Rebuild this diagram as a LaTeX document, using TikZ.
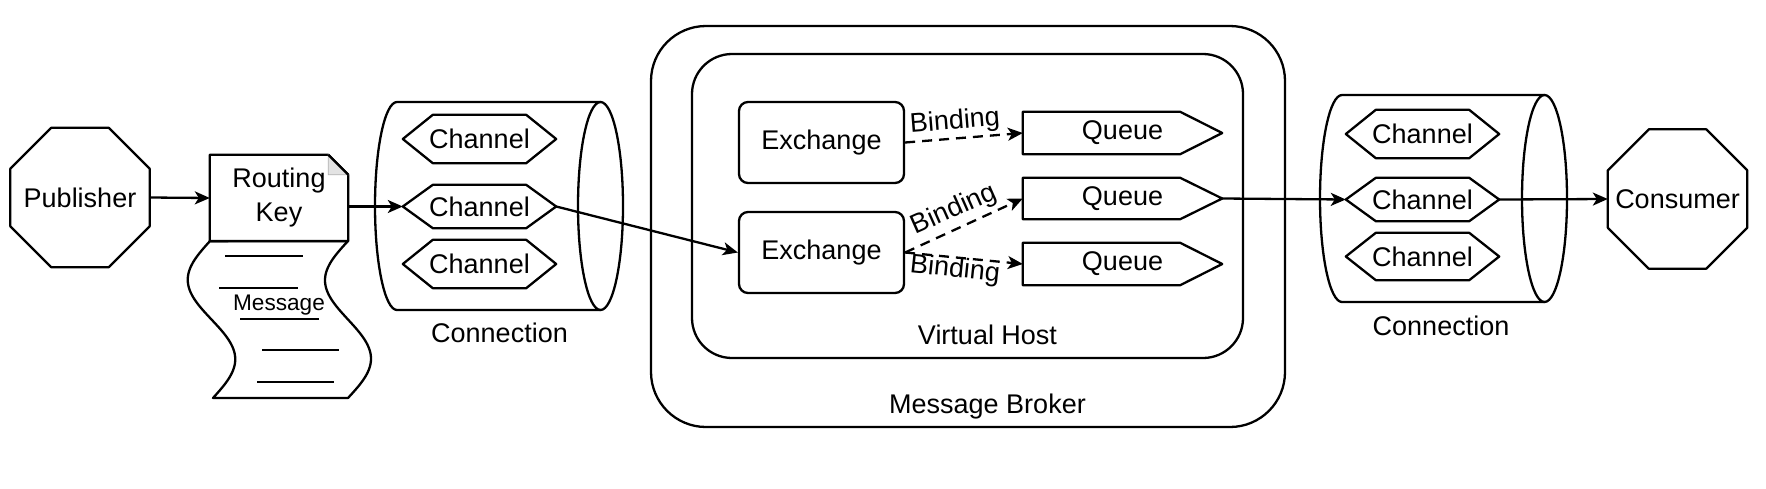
\documentclass[tikz,border=0pt]{standalone}
\usepackage{fontspec}
\setmainfont{Liberation Sans}
\usetikzlibrary{shapes.geometric,arrows.meta}
\tikzset{
  ln/.style={line width=2.3pt, line join=round},
  lbl/.style={font=\fontsize{27}{34}\selectfont, inner sep=0pt},
  tbox/.style={draw=none, inner sep=0pt, lbl},
  octbox/.style={tbox, minimum width=139pt, minimum height=139pt},
  chan/.style={tbox, minimum width=153pt},
  queue/.style={tbox, minimum width=199pt},
  exch/.style={draw, ln, rounded corners=9pt, minimum width=165pt, minimum height=81pt, inner sep=0pt, lbl},
  arr/.style={ln, -{Stealth[length=15pt,width=13pt,inset=4pt]}},
  dsh/.style={arr, dash pattern=on 10pt off 7pt},
}
\begin{document}
\begin{tikzpicture}[x=1pt,y=-1pt]
\useasboundingbox (0,0) rectangle (1766,488);
\fill[white] (0,0) rectangle (1766,488);

% containers
\node[draw, ln, rounded corners=55pt, minimum width=634pt, minimum height=401pt, inner sep=0pt] (broker) at (968,226.5) {};
\node[draw, ln, rounded corners=40pt, minimum width=551pt, minimum height=304pt, inner sep=0pt] (vhost) at (967.5,206) {};
\node[lbl] (vhostlbl) at (987.5,335) {Virtual Host};
\node[lbl] (brokerlbl) at (987.5,407) {Message Broker};

% cylinders
\draw[ln] (600.5,102) -- (397,102) arc[start angle=90,end angle=270,x radius=22pt,y radius=104pt] -- (600.5,310);
\draw[ln] (600.5,206) ellipse[x radius=22.5pt, y radius=104pt];
\node[lbl] (lconn) at (499.5,333) {Connection};
\draw[ln] (1544.5,95) -- (1342,95) arc[start angle=90,end angle=270,x radius=22pt,y radius=103.5pt] -- (1544.5,302);
\draw[ln] (1544.5,198.5) ellipse[x radius=22.5pt, y radius=103.5pt];
\node[lbl] (rconn) at (1441,326) {Connection};

% octagons
\node[octbox] (pub) at (80,197.5) {Publisher};
\node[octbox] (cons) at (1677.5,199) {Consumer};
\foreach \n in {pub,cons}{
  \draw[ln] ([xshift=41pt]\n.north west) -- ([xshift=-41pt]\n.north east) -- ([yshift=-41pt]\n.north east) -- ([yshift=41pt]\n.south east) -- ([xshift=-41pt]\n.south east) -- ([xshift=41pt]\n.south west) -- ([yshift=41pt]\n.south west) -- ([yshift=-41pt]\n.north west) -- cycle;
}

% document (routing key) + message scroll
\node[tbox, align=center, minimum width=138pt, minimum height=86pt] (doc) at (279,198) {Routing\\Key};
\draw[ln] (doc.south west) -- (doc.north west) -- ([xshift=-20pt]doc.north east) -- ([yshift=-20pt]doc.north east) -- (doc.south east) -- cycle;
\filldraw[fill=gray!22, draw=gray!60, line width=0.8pt] ([xshift=-20pt]doc.north east) -- ([xshift=-20pt,yshift=-20pt]doc.north east) -- ([yshift=-20pt]doc.north east) -- cycle;
\draw[ln] ([xshift=-20pt]doc.north east) -- ([yshift=-20pt]doc.north east);
\draw[ln] plot[domain=0:1,samples=80] ({348-23*sin(\x*360)},{241+157*\x}) -- plot[domain=1:0,samples=80] ({210+3*\x-23*sin(\x*360)},{241+157*\x}) -- cycle;
\draw[ln] (225,256) -- (303,256);
\draw[ln] (219,288) -- (298,288);
\draw[ln] (240,319) -- (319,319);
\draw[ln] (262,350) -- (339,350);
\draw[ln] (257,382) -- (334,382);
\node[tbox, font=\fontsize{22.6}{27}\selectfont] (msg) at (279,305) {Message};

% channels
\node[chan, minimum height=48pt] (lch1) at (479.5,139) {Channel};
\node[chan, minimum height=43pt] (lch2) at (479.5,206.5) {Channel};
\node[chan, minimum height=48pt] (lch3) at (479.5,264) {Channel};
\node[chan, minimum height=48pt] (rch1) at (1422.5,134) {Channel};
\node[chan, minimum height=43pt] (rch2) at (1422.5,199.5) {Channel};
\node[chan, minimum height=47pt] (rch3) at (1422.5,256.5) {Channel};
\foreach \n in {lch1,lch2,lch3,rch1,rch2,rch3}{
  \draw[ln] (\n.west) -- ([xshift=30pt]\n.north west) -- ([xshift=-30pt]\n.north east) -- (\n.east) -- ([xshift=-30pt]\n.south east) -- ([xshift=30pt]\n.south west) -- cycle;
}

% exchanges
\node[exch] (ex1) at (821.5,142.5) {Exchange};
\node[exch] (ex2) at (821.5,252.5) {Exchange};

% queues
\node[queue, minimum height=42pt] (q1) at (1122.5,133) {Queue};
\node[queue, minimum height=41pt] (q2) at (1122.5,198.5) {Queue};
\node[queue, minimum height=42pt] (q3) at (1122.5,264) {Queue};
\foreach \n in {q1,q2,q3}{
  \draw[ln] (\n.north west) -- ([xshift=-42pt]\n.north east) -- (\n.east) -- ([xshift=-42pt]\n.south east) -- (\n.south west) -- cycle;
}

% connectors
\draw[arr] (pub.east) -- (doc.west);
\draw[arr] (doc.east |- lch2.west) -- (lch2.west);
\draw[arr] (lch2.east) -- (ex2.west);
\draw[dsh] (ex1.east) -- (q1.west);
\draw[dsh] (ex2.east) -- (q2.west);
\draw[dsh] (ex2.east) -- (q3.west);
\draw[arr] (q2.east) -- (rch2.west);
\draw[arr] (rch2.east) -- (cons.west);

% binding labels
\node[lbl, rotate=4.5] (b1) at (955,122) {Binding};
\node[lbl, rotate=24] (b2) at (954,210) {Binding};
\node[lbl, rotate=-6] (b3) at (955,270) {Binding};
\end{tikzpicture}
\end{document}
